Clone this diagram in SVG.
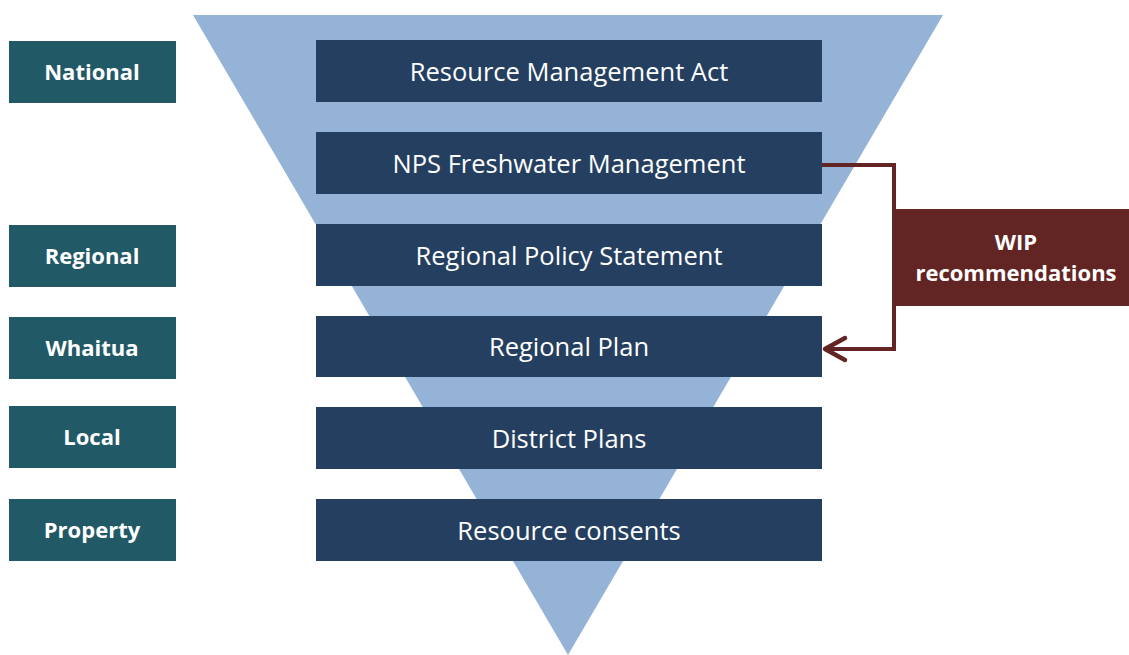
<svg xmlns="http://www.w3.org/2000/svg" width="1129" height="655" viewBox="0 0 1129 655">
<defs>
<style>
.main{fill:#253F60}
.lvl{fill:#215967}
.mt{font-family:"Open Sans","Noto Sans",sans-serif;font-size:25.5px;fill:#fff;text-anchor:middle}
.lt{font-family:"Open Sans","Noto Sans",sans-serif;font-size:22px;font-weight:bold;fill:#fff;text-anchor:middle}
.conn{fill:none;stroke:#632523;stroke-width:4;stroke-linejoin:miter}
.head{fill:none;stroke:#632523;stroke-width:4.5;stroke-linecap:round;stroke-linejoin:round}
</style>
</defs>
<rect width="1129" height="655" fill="#fff"/>
<polygon points="193,15 943,15 568,655" fill="#95B3D7"/>
<g id="connectors">
<path class="conn" d="M822,165 H894 V349 H826"/>
<path class="head" d="M845,338 L825,349 L845,360"/>
</g>
<g id="n-rma"><rect class="main" x="316" y="40" width="506" height="62"/><text class="mt" x="569" y="81">Resource Management Act</text></g>
<g id="n-nps"><rect class="main" x="316" y="132" width="506" height="62"/><text class="mt" x="569" y="173">NPS Freshwater Management</text></g>
<g id="n-rps"><rect class="main" x="316" y="224" width="506" height="62"/><text class="mt" x="569" y="265">Regional Policy Statement</text></g>
<g id="n-rp"><rect class="main" x="316" y="316" width="506" height="61"/><text class="mt" x="569" y="356">Regional Plan</text></g>
<g id="n-dp"><rect class="main" x="316" y="407" width="506" height="62"/><text class="mt" x="569" y="448">District Plans</text></g>
<g id="n-rc"><rect class="main" x="316" y="499" width="506" height="62"/><text class="mt" x="569" y="540">Resource consents</text></g>
<g id="l-national"><rect class="lvl" x="9" y="41" width="167" height="62"/><text class="lt" x="92" y="80">National</text></g>
<g id="l-regional"><rect class="lvl" x="9" y="225" width="167" height="62"/><text class="lt" x="92" y="264">Regional</text></g>
<g id="l-whaitua"><rect class="lvl" x="9" y="317" width="167" height="62"/><text class="lt" x="92" y="356">Whaitua</text></g>
<g id="l-local"><rect class="lvl" x="9" y="406" width="167" height="62"/><text class="lt" x="92" y="445">Local</text></g>
<g id="l-property"><rect class="lvl" x="9" y="499" width="167" height="62"/><text class="lt" x="92" y="538">Property</text></g>
<g id="n-wip"><rect x="896" y="209" width="233" height="97" fill="#632523"/><text class="lt" x="1016" y="250">WIP</text><text class="lt" x="1016" y="281">recommendations</text></g>
</svg>
